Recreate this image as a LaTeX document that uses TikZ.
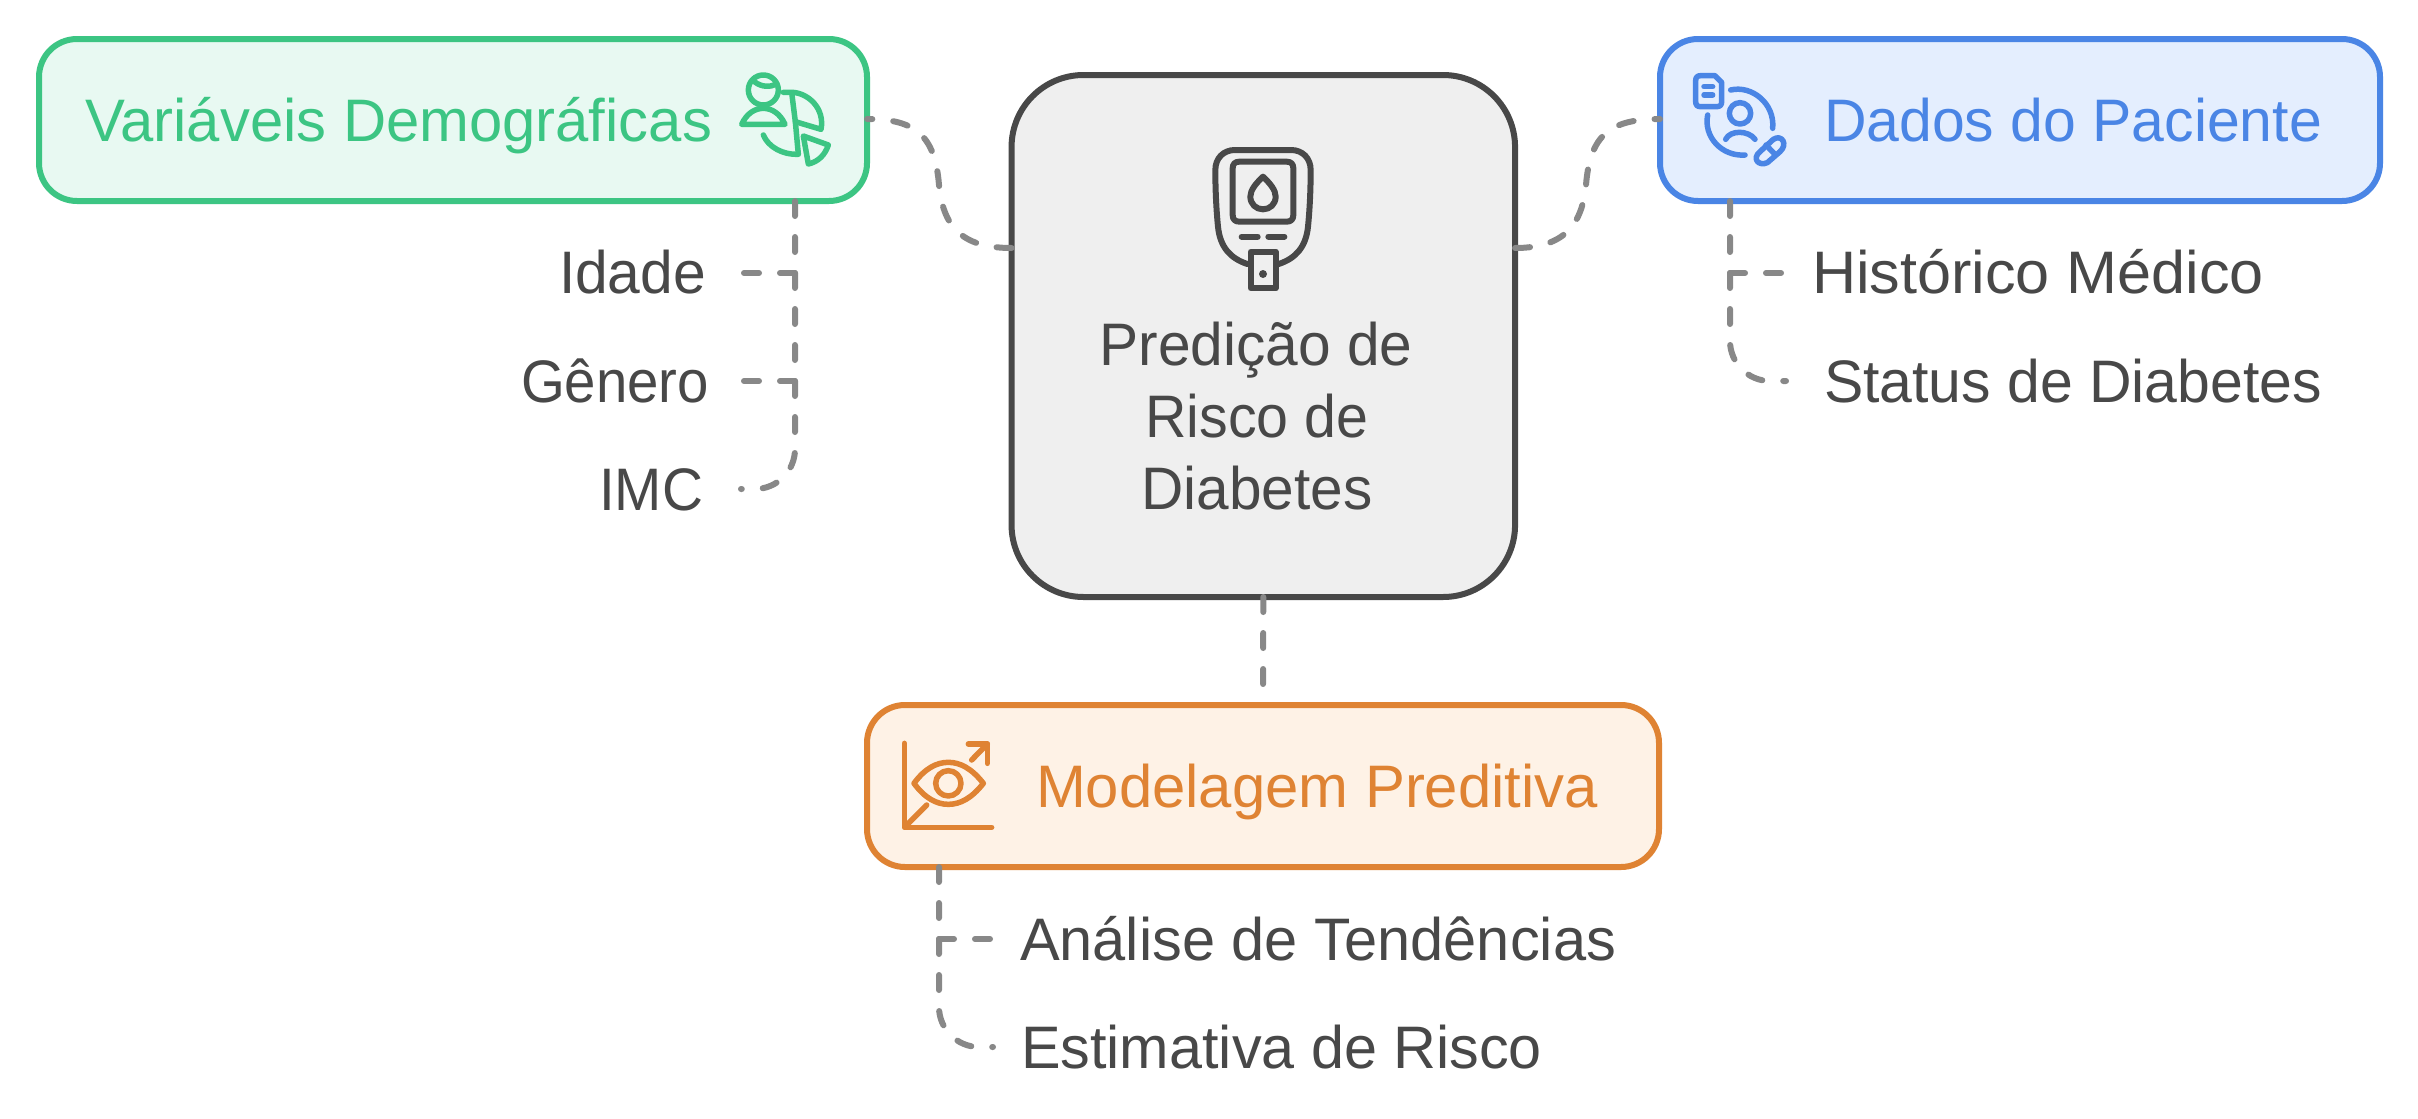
\documentclass[tikz,border=0pt]{standalone}
\usepackage{fontspec}
\usepackage{graphicx}
\setmainfont{Liberation Sans}
\definecolor{ink}{HTML}{484848}
\definecolor{dashc}{HTML}{888888}
\definecolor{gline}{HTML}{3CC583}\definecolor{gfill}{HTML}{E8F9F2}
\definecolor{bline}{HTML}{4A85E5}\definecolor{bfill}{HTML}{E4EEFE}
\definecolor{oline}{HTML}{DF8333}\definecolor{ofill}{HTML}{FEF2E6}
\definecolor{cfill}{HTML}{EFEFEF}
\newcommand\fitw[2]{\resizebox{#1pt}{\height}{#2}}
\tikzset{
  x=1pt,y=-1pt,
  boxn/.style={rectangle,draw,line width=6pt,inner sep=0pt,outer sep=0pt,rounded corners=38pt,text width=0pt},
  txt/.style={inner sep=0pt,outer sep=0pt,font=\fontsize{60}{71}\selectfont,text=ink},
  conn/.style={draw=dashc,line width=6pt,dash pattern=on 15pt off 21pt,line cap=round},
  icon/.style={line width=5.5pt,line cap=round,line join=round},
  iconb/.style={icon,line width=6pt}
}
\begin{document}
\begin{tikzpicture}
\useasboundingbox (0,0) rectangle (2418,1119);
\fill[white] (0,0) rectangle (2418,1119);
% boxes
\node[boxn,draw=gline,fill=gfill,minimum width=828pt,minimum height=162pt] (demo) at (453,120) {};
\node[boxn,draw=bline,fill=bfill,minimum width=720pt,minimum height=162pt] (pac) at (2020,120) {};
\node[boxn,draw=ink,fill=cfill,rounded corners=72pt,minimum width=503.5pt,minimum height=522pt] (main) at (1263.3,336) {};
\node[boxn,draw=oline,fill=ofill,minimum width=792pt,minimum height=162pt] (mod) at (1263,786) {};
% titles
\node[txt,text=gline,anchor=base west] (tdemo) at (85,141) {\fitw{627}{Variáveis Demográficas}};
\node[txt,text=bline,anchor=base west] (tpac) at (1824,141) {\fitw{498}{Dados do Paciente}};
\node[txt,text=oline,anchor=base west] (tmod) at (1036,807) {\fitw{562}{Modelagem Preditiva}};
\node[txt,anchor=base] (l1) at (1256,365) {\fitw{313}{Predição de}};
\node[txt,anchor=base] (l2) at (1257,437) {\fitw{223}{Risco de}};
\node[txt,anchor=base] (l3) at (1257,509) {\fitw{231}{Diabetes}};
% items
\node[txt,anchor=base east] (idade) at (706,293) {\fitw{147}{Idade}};
\node[txt,anchor=base east] (genero) at (709,402) {\fitw{188}{Gênero}};
\node[txt,anchor=base east] (imc) at (703,510) {\fitw{104}{IMC}};
\node[txt,anchor=base west] (hist) at (1812,293) {\fitw{452}{Histórico Médico}};
\node[txt,anchor=base west] (stat) at (1824,402) {\fitw{498}{Status de Diabetes}};
\node[txt,anchor=base west] (anal) at (1020,960) {\fitw{596}{Análise de Tendências}};
\node[txt,anchor=base west] (esti) at (1021,1068) {\fitw{521}{Estimativa de Risco}};
% connector anchor points
\coordinate (gt) at (795,201);
\coordinate (bt) at (1730,201);
\coordinate (ot) at (939,867);
\coordinate (gl1) at (741,273);\coordinate (gl2) at (741,381);\coordinate (gl3) at (741,489);
\coordinate (bl1) at (1787,273);\coordinate (bl2) at (1786,381);
\coordinate (ol1) at (993,939);\coordinate (ol2) at (993,1047);
% connectors
\draw[conn] (main.west |- 0,248) .. controls (960,248) and (943,225) .. (939,185) .. controls (935,135) and (915,119) .. (demo.east |- 0,119);
\draw[conn] (main.east |- 0,248) .. controls (1564,248) and (1582,225) .. (1586,185) .. controls (1590,135) and (1610,119) .. (pac.west |- 0,119);
\draw[conn,shorten >=12pt] (main.south) -- (mod.north);
\draw[conn] (gt) -- (795,449) .. controls (795,471) and (777,489) .. (755,489) -- (gl3);
\draw[conn] (gt |- gl1) -- (gl1);
\draw[conn] (gt |- gl2) -- (gl2);
\draw[conn] (bt) -- (1730,341) .. controls (1730,363) and (1748,381) .. (1770,381) -- (bl2);
\draw[conn] (bt |- bl1) -- (bl1);
\draw[conn] (ot) -- (939,1007) .. controls (939,1029) and (957,1047) .. (979,1047) -- (ol2);
\draw[conn] (ot |- ol1) -- (ol1);
% green icon
\begin{scope}[shift={(720,60)},scale=1/3,icon,draw=gline]
\draw (130,90) circle (45);
\draw (103,65) .. controls (125,82) and (150,82) .. (170,72);
\draw (65,193) .. controls (80,160) and (105,145) .. (130,145) .. controls (155,145) and (180,160) .. (195,193) -- cycle;
\draw (190,97) -- (218,97) .. controls (265,100) and (315,145) .. (303,208) -- (226,185) -- (215,97);
\draw (130,225) .. controls (145,262) and (190,285) .. (235,283) -- (226,185);
\draw (250,228) -- (325,255) .. controls (315,285) and (295,305) .. (265,312) -- cycle;
\end{scope}
% blue icon
\begin{scope}[shift={(1680,60)},scale=1/3,icon,draw=bline]
\draw (62,47) -- (105,47) -- (125,67) -- (125,125) .. controls (125,135) and (120,140) .. (110,140) -- (62,140) .. controls (52,140) and (47,135) .. (47,125) -- (47,62) .. controls (47,52) and (52,47) .. (62,47) -- cycle;
\draw (72,80) -- (98,80) (72,105) -- (98,105);
\draw (152,90) .. controls (215,75) and (285,130) .. (278,205);
\draw (83,165) .. controls (70,230) and (125,290) .. (195,285);
\draw (180,160) circle (32);
\draw (137,238) .. controls (150,210) and (205,210) .. (225,238);
\draw (240,275) -- (280,238) .. controls (305,222) and (325,252) .. (300,275) -- (262,308) .. controls (235,320) and (215,295) .. (240,275) -- cycle;
\draw (258,255) -- (282,280);
\end{scope}
% orange icon
\begin{scope}[shift={(890,730)},scale=1/3,icon,draw=oline]
\draw (43,40) -- (43,292) -- (305,292);
\draw (50,285) -- (110,225);
\draw (245,90) -- (292,42);
\draw (235,42) -- (292,42) -- (292,100);
\draw (72,160) .. controls (105,115) and (140,97) .. (175,97) .. controls (210,97) and (245,115) .. (280,160) .. controls (245,205) and (210,223) .. (175,223) .. controls (140,223) and (105,205) .. (72,160) -- cycle;
\draw (175,160) circle (38);
\end{scope}
% meter icon
\begin{scope}[shift={(1190,130)},scale=1/3,iconb,draw=ink]
\draw (172,402) .. controls (120,385) and (90,350) .. (84,290) .. controls (78,230) and (76,170) .. (76,120) .. controls (76,85) and (100,60) .. (135,60) -- (303,60) .. controls (338,60) and (362,85) .. (362,120) .. controls (362,170) and (360,230) .. (354,290) .. controls (348,350) and (318,385) .. (266,402);
\draw (148,95) -- (290,95) .. controls (303,95) and (310,102) .. (310,115) -- (310,255) .. controls (310,268) and (303,275) .. (290,275) -- (148,275) .. controls (135,275) and (128,268) .. (128,255) -- (128,115) .. controls (128,102) and (135,95) .. (148,95) -- cycle;
\draw (219,140) .. controls (240,160) and (257,180) .. (257,200) .. controls (257,222) and (240,238) .. (219,238) .. controls (198,238) and (181,222) .. (181,200) .. controls (181,180) and (198,160) .. (219,140) -- cycle;
\draw (155,320) -- (203,320) (235,320) -- (283,320);
\draw (182,365) -- (257,365) -- (257,475) -- (182,475) -- cycle;
\fill[ink] (219,432) circle (12);
\end{scope}
\end{tikzpicture}
\end{document}
